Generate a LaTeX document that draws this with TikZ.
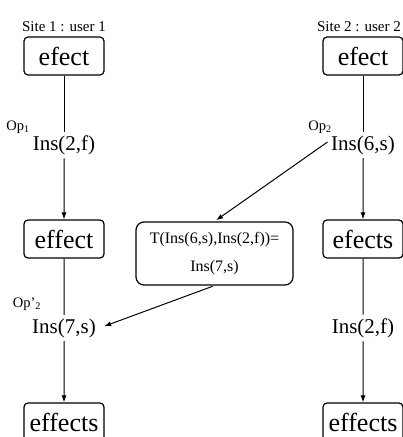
\documentclass[tikz,border=0pt]{standalone}
\usepackage{fontspec}
\setmainfont{Liberation Serif}
\usetikzlibrary{arrows.meta}

\newcommand{\docfont}{\fontsize{26}{28}\selectfont}
\newcommand{\insfont}{\fontsize{21}{24}\selectfont}
\newcommand{\sitefont}{\fontsize{15}{17}\selectfont}
\newcommand{\oplabelfont}{\fontsize{14.5}{16}\selectfont}

\begin{document}
\begin{tikzpicture}[
    x=1pt, y=1pt,
    level 1/.style={level distance=89pt},
    level 2/.style={level distance=94pt},
    level 3/.style={level distance=89pt},
    level 4/.style={level distance=94pt},
    docbox/.style={draw, rounded corners=4pt, line width=1.2pt, minimum width=80pt, minimum height=38pt, inner sep=2pt, font=\docfont},
    opnode/.style={inner sep=3.5pt, font=\insfont},
    sitelabel/.style={font=\sitefont, inner sep=4pt},
    oplabel/.style={font=\oplabelfont, inner sep=0pt},
    edge from parent/.style={draw, line width=1pt},
    flow/.style={-{Latex[length=7pt,width=5pt]}}
]
\useasboundingbox (0,0) rectangle (403,437);
\clip (0,0) rectangle (403,437);

% site 1
\node[docbox, label={[sitelabel]above:Site 1 : user 1}] (s1a) at (64,381) {efect}
    child { node[opnode, label={[oplabel, xshift=-46pt, yshift=18pt]center:Op\textsubscript{1}}] (s1op) {Ins(2,f)}
        child { node[docbox] (s1b) {effect}
            child { node[opnode, label={[oplabel, xshift=-37pt, yshift=24pt]center:Op'\textsubscript{2}}] (s1tr) {Ins(7,s)}
                child { node[docbox] (s1c) {effects} edge from parent[flow] }
            }
            edge from parent[flow]
        }
    };

% site 2
\node[docbox, label={[sitelabel, xshift=-4pt]above:Site 2 : user 2}] (s2a) at (363,381) {efect}
    child { node[opnode, label={[oplabel, xshift=-43pt, yshift=18pt]center:Op\textsubscript{2}}] (s2op) {Ins(6,s)}
        child { node[docbox] (s2b) {efects}
            child { node[opnode] (s2rm) {Ins(2,f)}
                child { node[docbox] (s2c) {effects} edge from parent[flow] }
            }
            edge from parent[flow]
        }
    };

% transformation
\node[draw, rounded corners=8pt, line width=1.2pt, minimum width=157pt, minimum height=63pt, align=center, font=\fontsize{16}{28}\selectfont] (xform) at (214.5,183.5) {T(Ins(6,s),Ins(2,f))=\\Ins(7,s)};

\draw[flow, line width=1pt, shorten >=2pt] ([yshift=3pt]s2op.west) -- (xform.north);
\draw[flow, line width=1pt, shorten <=2pt, shorten >=5pt] (xform.south) -- (s1tr.east);
\end{tikzpicture}
\end{document}
